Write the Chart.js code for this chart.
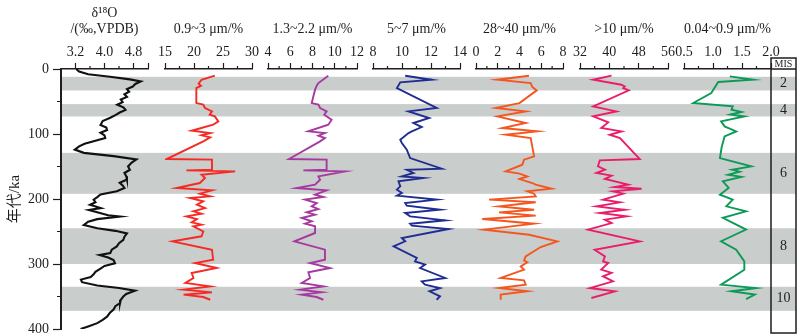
<!DOCTYPE html>
<html>
<head>
<meta charset="utf-8">
<script src="https://cdn.jsdelivr.net/npm/chart.js@4"></script>
<style>
  html, body { margin: 0; padding: 0; background: #fff; }
  #wrap { position: relative; width: 800px; height: 336px; overflow: hidden; }
  #wrap canvas { position: absolute; top: 0; }
</style>
</head>
<body>
<div id="wrap"></div>
<script>
// ---- data (age ka, value) ----
const misBands = [[12, 33], [54, 73], [129, 192], [245, 300], [335, 372]];
const misLabels = ["2", "4", "6", "8", "10"];
const ageTicks = [0, 50, 100, 150, 200, 250, 300, 350, 400];
const ageLabels = [0, 100, 200, 300, 400];

const d18o = [[0,3.22],[4,3.3],[8,3.55],[12,4.15],[16,4.7],[19,5.0],[23,4.85],[27,4.78],[31,4.62],[35,4.68],
  [39,4.55],[43,4.62],[47,4.45],[51,4.5],[55,4.35],[59,4.52],[63,4.58],[67,4.42],[71,4.3],[75,4.16],
  [80,3.95],[86,3.89],[90,4.05],[94,4.07],[98,3.89],[102,4.0],[106,4.02],[111,3.7],[115,3.45],[119,3.3],
  [124,3.18],[129,3.43],[134,4.25],[139,4.88],[144,4.75],[150,4.65],[155,4.7],[160,4.55],[165,4.6],[170,4.62],
  [175,4.42],[179,4.5],[183,4.55],[188,4.34],[193,3.89],[197,3.8],[201,3.7],[205,3.75],[209,3.6],[214,3.9],
  [217,3.57],[221,3.85],[225,4.1],[227,4.43],[231,3.8],[235,3.55],[240,3.43],[245,3.8],[249,4.3],[253,4.62],
  [258,4.55],[263,4.52],[268,4.4],[273,4.34],[278,4.2],[283,4.16],[286,3.86],[290,4.1],[294,4.25],[299,4.29],
  [303,4.0],[307,3.89],[312,3.75],[316,3.7],[320,3.62],[324,3.35],[328,3.38],[333,3.8],[337,4.4],[341,4.84],
  [346,4.6],[350,4.52],[355,4.45],[360,4.43],[365,4.3],[370,4.25],[375,4.15],[381,4.07],[386,3.95],[391,3.8],
  [396,3.55],[400,3.34]];

const grain09 = [[10.3,23.6],[16.5,21.3],[22.6,20.8],[25.7,21.2],[29.3,20.4],[52.4,20.4],[54.9,21.6],[60,21.9],
  [65.2,23.1],[70.3,22.7],[72.9,23.6],[80.6,24.2],[85.7,23.3],[95,19.6],[98.5,22.8],[102,21.3],[105.2,22.8],
  [111.3,21.6],[138.5,15.3],[139.5,23.1],[155,23.1],[156,18.7],[157.5,27.1],[162.6,21.3],[167.7,21.9],
  [175.4,21.0],[183.1,17.0],[186.7,23.1],[191.8,21.0],[195.9,22.8],[198.5,19.3],[203.6,21.6],[208.8,20.5],
  [214,21.9],[219,19.9],[222.6,21.3],[226.7,18.7],[230.8,20.5],[236,19.6],[239.5,21.3],[242,19.9],
  [249.8,21.6],[257.4,21.3],[265.2,16.3],[278,23.1],[293.4,23.3],[298.5,20.2],[306.2,23.9],[313.8,19.6],
  [321.5,19.9],[329.2,18.5],[334.4,22.8],[339.5,18.2],[343.6,23.1],[347.2,18.2],[350.8,21.6],[355,22.8]];

const grain13 = [[10.3,9.42],[21.6,8.53],[25.7,8.38],[31.8,8.23],[52.4,7.93],[54.9,8.53],[60,8.68],[65.2,9.27],
  [70.3,9.06],[78,9.72],[85.7,9.42],[95.9,7.63],[98.5,9.12],[102.6,8.53],[106.2,9.12],[111.3,8.68],
  [138.5,5.89],[139.5,9.27],[155,9.27],[156,7.18],[157.5,10.92],[165.2,8.53],[170.3,8.68],[178,8.23],
  [183.1,6.58],[186.7,9.27],[193.4,8.23],[197,8.98],[201,7.33],[206.2,8.38],[211.3,7.93],[215.4,8.53],
  [220.5,7.48],[224.1,8.23],[229.2,7.03],[234.4,7.93],[238,7.33],[242,8.23],[252.3,8.23],[265.2,6.37],
  [278,9.12],[293.4,9.12],[298.5,7.78],[306.2,9.57],[312.8,7.63],[321.5,7.78],[329.2,7.03],[334.4,8.98],
  [339.5,6.88],[343.6,8.83],[347.2,7.03],[350.8,8.38],[355,8.98]];

const grain57 = [[10.3,10.22],[16.5,12.05],[20.6,9.88],[29.3,9.65],[60,12.39],[65.2,10.45],[75.4,11.87],
  [83.1,10.79],[89.3,11.36],[96,10.68],[98.5,10.45],[108.8,9.88],[113.9,9.99],[124.2,10.33],[137,10.56],
  [153.4,12.74],[155,10.33],[160,10.79],[165.2,9.99],[167.7,11.48],[172.9,9.76],[180.5,9.88],[185.7,9.65],
  [190.8,9.99],[194.9,9.65],[201,12.39],[206.2,10.22],[210.3,10.33],[216.5,12.62],[221.5,10.22],
  [226.7,10.56],[232.8,12.98],[238,10.56],[241,10.68],[246.2,13.21],[260,9.99],[265,10.22],[272.9,9.42],
  [290.8,11.02],[296,10.9],[301,11.59],[306.2,11.25],[321.5,12.98],[326.7,11.36],[331.8,11.59],
  [337,12.62],[342,11.9],[349.7,12.62],[355,12.39]];

const grain28 = [[10.3,4.88],[16.5,1.96],[21.6,5.03],[27.7,5.18],[32.9,5.58],[52.4,4.0],[60,1.81],[65.2,4.57],
  [72.9,1.96],[83.1,4.57],[90.8,2.42],[96,5.64],[101.1,2.73],[106.2,5.03],[134.4,5.34],[139.5,4.42],
  [147.2,4.26],[157.5,2.73],[161,4.0],[165.2,4.72],[169.3,4.0],[175.4,5.18],[178,5.49],[184.2,6.95],
  [188.2,4.72],[191.8,5.34],[195.9,5.49],[201,1.2],[205,5.49],[211.3,2.12],[216.5,5.34],[220.5,2.12],
  [225.6,5.49],[230.8,0.58],[238,5.34],[247.2,0.74],[255,4.88],[265.2,7.48],[273.9,5.95],[288.2,4.57],
  [294.4,4.42],[297.4,4.72],[303.6,4.11],[308.7,4.42],[321.5,2.27],[325.1,4.42],[331.8,4.57],[337,2.12],
  [342,4.72],[347.2,2.27],[355,2.27]];

const grain10 = [[10.3,40.6],[16.5,35.6],[24.2,43.3],[26.8,44.2],[29.3,43.8],[32.9,45.3],[57.5,35.6],[65.2,41.9],
  [72.9,35.6],[82.1,39.7],[90.8,37.8],[96,43.3],[101.1,40.1],[106.2,42.9],[138.5,48.3],[140.5,37.4],
  [149.8,36.9],[155,38.8],[160,36.5],[164.1,40.6],[169.3,38.8],[178,45.1],[181.6,41.5],[184.2,48.8],
  [188.2,41.0],[191.8,43.8],[201,38.3],[205.2,42.9],[211.3,36.5],[216.5,44.2],[221.5,37.4],[226.7,44.7],
  [231.8,38.8],[237,40.6],[247.2,34.2],[265.2,48.3],[278,36.0],[288.2,38.8],[295.9,38.3],[298.5,39.7],
  [308.7,37.8],[313.8,40.6],[319,38.3],[326.6,41.0],[337,34.7],[342,41.5],[352.3,35.1]];

const grain004 = [[11.4,1.29],[16.5,1.69],[20,1.09],[37,0.97],[52.3,0.66],[57.5,1.34],[62.6,1.32],[66,1.49],
  [70,1.3],[73,1.54],[80.6,1.14],[88.3,1.2],[96,1.4],[103.7,1.2],[120,1.15],[137,1.12],[149.8,1.66],
  [155,1.33],[158,1.46],[162.6,1.26],[166,1.49],[172.8,1.17],[183,1.27],[193.4,1.12],[201,1.34],
  [211.3,1.23],[219,1.57],[229,1.17],[247,1.57],[265,1.14],[278,1.4],[296,1.54],[308.8,1.54],
  [331.8,1.14],[337,1.74],[342,1.32],[347,1.72],[354,1.57]];

// ---- layout ----
const H = 336, TOP = 69, BOTTOM = 329, PAD = 24;
const serif = "'Liberation Serif', 'Noto Sans CJK SC', serif";
const ink = "#1e1e1e";
const wrap = document.getElementById("wrap");

const panels = [
  { data: d18o, title: ["δ¹⁸O", "/(‰,VPDB)"], color: "#111", width: 2.1, left: 61, right: 148,
    min: 2.8, max: 5.2, step: 0.4, labels: [3.2, 4.0, 4.8], major: [3.2, 4.0, 4.8, 5.2], skip: [2.8], digits: 1 },
  { data: grain09, title: ["", "0.9~3 μm/%"], color: "#f52a24", width: 1.9, left: 165, right: 252,
    min: 15, max: 30, step: 2.5, labels: [15, 20, 25, 30], digits: 0 },
  { data: grain13, title: ["", "1.3~2.2 μm/%"], color: "#a5399f", width: 1.9, left: 268, right: 357,
    min: 4, max: 12, step: 1, labels: [4, 6, 8, 10, 12], digits: 0 },
  { data: grain57, title: ["", "5~7 μm/%"], color: "#1f2d93", width: 1.9, left: 373, right: 460,
    min: 8, max: 14, step: 1, labels: [8, 10, 12, 14], digits: 0 },
  { data: grain28, title: ["", "28~40 μm/%"], color: "#f5561f", width: 1.9, left: 476, right: 563,
    min: 0, max: 8, step: 1, labels: [0, 2, 4, 6, 8], digits: 0 },
  { data: grain10, title: ["", ">10 μm/%"], color: "#ea1d6b", width: 1.9, left: 580, right: 668,
    min: 32, max: 56, step: 4, labels: [32, 40, 48, 56], digits: 0 },
  { data: grain004, title: ["", "0.04~0.9 μm/%"], color: "#0c9a57", width: 1.9, left: 684, right: 771,
    min: 0.5, max: 2.0, step: 0.25, labels: [0.5, 1.0, 1.5, 2.0], digits: 1 }
];

function has(list, v) {
  return (list || []).some(x => Math.abs(x - v) < 1e-6);
}

function addCanvas(left, width) {
  const c = document.createElement("canvas");
  c.width = width;
  c.height = H;
  c.style.left = left + "px";
  c.style.width = width + "px";
  c.style.height = H + "px";
  wrap.appendChild(c);
  return c;
}

// short ticks for the unlabelled positions
const minorTicks = {
  id: "minorTicks",
  afterDraw(chart, args, opts) {
    const s = chart.scales[opts.axis];
    const ctx = chart.ctx;
    ctx.save();
    ctx.strokeStyle = ink;
    ctx.lineWidth = 1.2;
    ctx.beginPath();
    s.ticks.forEach(t => {
      if (has(opts.major, t.value) || has(opts.skip, t.value)) return;
      const p = s.getPixelForValue(t.value);
      if (opts.axis === "x") {
        ctx.moveTo(p, s.bottom);
        ctx.lineTo(p, s.bottom - opts.len);
      } else {
        ctx.moveTo(s.right, p);
        ctx.lineTo(s.right - opts.len, p);
      }
    });
    ctx.stroke();
    ctx.restore();
  }
};

// grey MIS bands + MIS column
const misPlugin = {
  id: "misPlugin",
  beforeDatasetsDraw(chart) {
    const { ctx, chartArea } = chart;
    const y = chart.scales.y;
    ctx.save();
    ctx.fillStyle = "#c9cdcc";
    misBands.forEach(b => {
      const y0 = y.getPixelForValue(b[0]);
      const y1 = y.getPixelForValue(b[1]);
      ctx.fillRect(chartArea.left + 1, y0, chartArea.right - chartArea.left - 1, y1 - y0);
    });
    ctx.restore();
  },
  afterDraw(chart) {
    const { ctx, chartArea } = chart;
    const y = chart.scales.y;
    const x0 = 771, x1 = chartArea.right;
    ctx.save();
    ctx.strokeStyle = ink;
    ctx.lineWidth = 1.5;
    ctx.strokeRect(x0, chartArea.top - 11, x1 - x0, chartArea.bottom - chartArea.top + 15);
    ctx.beginPath();
    ctx.moveTo(x0, chartArea.top);
    ctx.lineTo(x1, chartArea.top);
    ctx.stroke();
    ctx.fillStyle = ink;
    ctx.textAlign = "center";
    ctx.textBaseline = "middle";
    ctx.font = "10px " + serif;
    ctx.fillText("MIS", (x0 + x1) / 2, chartArea.top - 5);
    ctx.font = "14px " + serif;
    misBands.forEach((b, i) => {
      ctx.fillText(misLabels[i], (x0 + x1) / 2, y.getPixelForValue((b[0] + b[1]) / 2));
    });
    ctx.restore();
  }
};

// base chart: age axis, bands, MIS column
new Chart(addCanvas(0, 800), {
  type: "line",
  data: { datasets: [] },
  options: {
    responsive: false,
    animation: false,
    devicePixelRatio: 1,
    layout: { padding: { left: 0, right: 4, top: TOP, bottom: H - BOTTOM } },
    plugins: {
      legend: { display: false },
      tooltip: { enabled: false },
      minorTicks: { axis: "y", major: ageLabels, len: 4 }
    },
    scales: {
      x: { type: "linear", display: false, min: 0, max: 1 },
      y: {
        type: "linear",
        min: 0,
        max: 400,
        reverse: true,
        afterBuildTicks: s => { s.ticks = ageTicks.map(v => ({ value: v })); },
        afterFit: s => { s.width = 61; s.paddingTop = 0; s.paddingBottom = 0; },
        ticks: {
          autoSkip: false,
          padding: 4,
          color: ink,
          font: { family: serif, size: 14 },
          callback: v => (has(ageLabels, v) ? String(v) : "")
        },
        grid: {
          drawOnChartArea: false,
          tickLength: 8,
          tickWidth: 1.2,
          tickColor: c => (c.tick && has(ageLabels, c.tick.value) ? ink : "rgba(0,0,0,0)")
        },
        border: { color: ink, width: 2 },
        title: {
          display: true,
          text: "年代/ka",
          color: ink,
          font: { family: serif, size: 15 },
          padding: { top: 6, bottom: 0 }
        }
      }
    }
  },
  plugins: [misPlugin, minorTicks]
});

// one small chart per proxy
panels.forEach(p => {
  const tickVals = [];
  for (let v = p.min; v <= p.max + 1e-9; v += p.step) tickVals.push(Math.round(v * 1000) / 1000);
  const major = p.major || p.labels;

  new Chart(addCanvas(p.left - PAD, p.right - p.left + 2 * PAD), {
    type: "line",
    data: {
      datasets: [{
        data: p.data.map(d => ({ x: d[1], y: d[0] })),
        borderColor: p.color,
        borderWidth: p.width,
        pointRadius: 0,
        tension: 0,
        fill: false
      }]
    },
    options: {
      indexAxis: "y",
      responsive: false,
      animation: false,
      devicePixelRatio: 1,
      layout: { padding: { left: PAD, right: PAD, top: 0, bottom: H - BOTTOM } },
      plugins: {
        legend: { display: false },
        tooltip: { enabled: false },
        minorTicks: { axis: "x", major: major, skip: p.skip, len: 3 }
      },
      scales: {
        x: {
          type: "linear",
          position: "top",
          min: p.min,
          max: p.max,
          afterBuildTicks: s => { s.ticks = tickVals.map(v => ({ value: v })); },
          afterFit: s => { s.height = TOP; s.paddingLeft = 0; s.paddingRight = 0; },
          ticks: {
            autoSkip: false,
            maxRotation: 0,
            padding: 2,
            color: ink,
            font: { family: serif, size: 14 },
            callback: v => (has(p.labels, v) ? Number(v).toFixed(p.digits) : "")
          },
          grid: {
            drawOnChartArea: false,
            tickLength: 6,
            tickWidth: 1.2,
            tickColor: c => (c.tick && has(major, c.tick.value) ? ink : "rgba(0,0,0,0)")
          },
          border: { color: ink, width: 1.5 },
          title: {
            display: true,
            text: p.title,
            color: ink,
            font: { family: serif, size: 14, lineHeight: "16.5px" },
            padding: { top: 5, bottom: 0 }
          }
        },
        y: { type: "linear", display: false, min: 0, max: 400, reverse: true }
      }
    },
    plugins: [minorTicks]
  });
});
</script>
</body>
</html>
